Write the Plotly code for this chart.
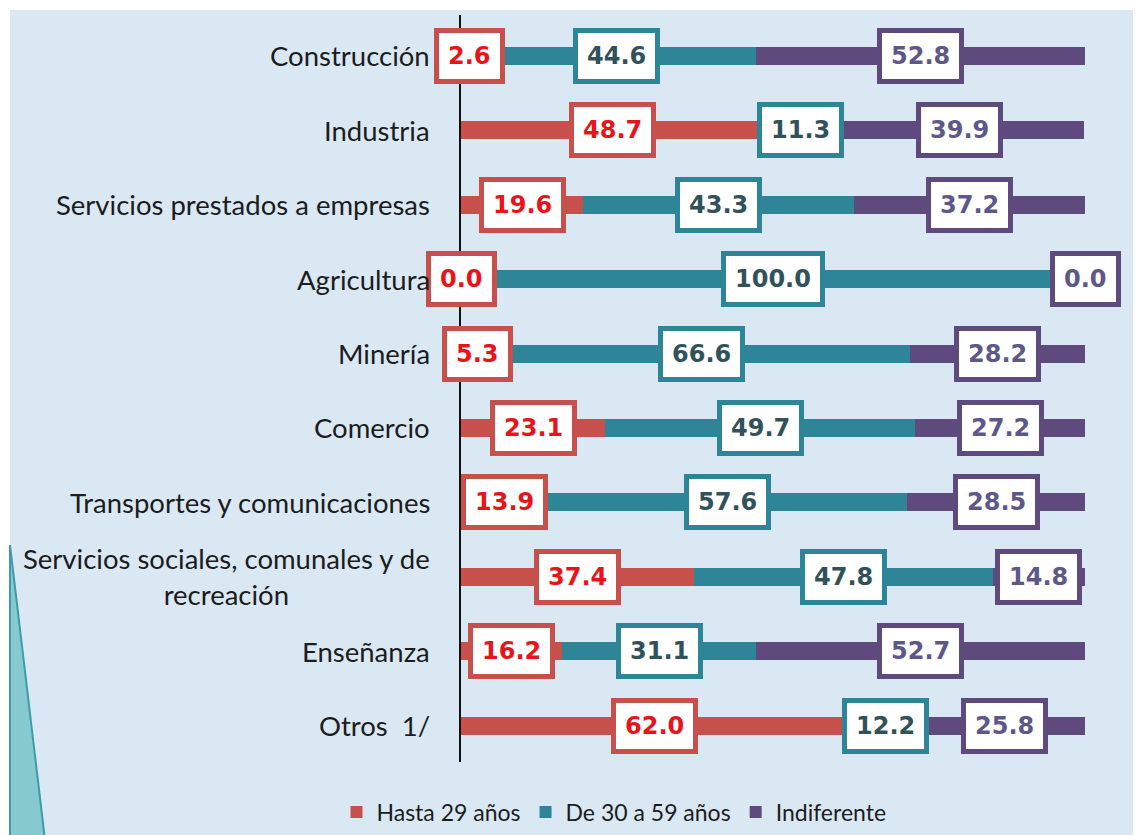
import plotly.graph_objects as go

categories = ["Construcción", "Industria", "Servicios prestados a empresas", "Agricultura",
              "Minería", "Comercio", "Transportes y comunicaciones",
              "Servicios sociales, comunales y de<br>recreación", "Enseñanza", "Otros  1/"]
series_names = ["Hasta 29 años", "De 30 a 59 años", "Indiferente"]
hasta_29 = [2.6, 48.7, 19.6, 0.0, 5.3, 23.1, 13.9, 37.4, 16.2, 62.0]
de_30_59 = [44.6, 11.3, 43.3, 100.0, 66.6, 49.7, 57.6, 47.8, 31.1, 12.2]
indiferente = [52.8, 39.9, 37.2, 0.0, 28.2, 27.2, 28.5, 14.8, 52.7, 25.8]

bar_colors = ["#c8504c", "#2e8597", "#5e4a7c"]
text_colors = ["#e8141a", "#31515b", "#5d5888"]

fig = go.Figure()
series = [hasta_29, de_30_59, indiferente]
for name, vals, col in zip(series_names, series, bar_colors):
    fig.add_trace(go.Bar(y=categories, x=vals, name=name, orientation="h",
                         width=0.242, marker=dict(color=col, line=dict(width=0)),
                         hoverinfo="skip"))

# value labels centered on each segment
annotations = []
for i, cat in enumerate(categories):
    start = 0.0
    for vals, bcol, tcol in zip(series, bar_colors, text_colors):
        v = vals[i]
        annotations.append(dict(
            x=start + v / 2, y=cat, xref="x", yref="y", text=f"<b>{v:.1f}</b>",
            showarrow=False, font=dict(family="DejaVu Sans", size=24, color=tcol),
            bgcolor="white", bordercolor=bcol, borderwidth=5, borderpad=9,
            xanchor="center", yanchor="middle"))
        start += v
    annotations.append(dict(
        x=-0.046, y=cat, xref="paper", yref="y", text=cat, showarrow=False,
        xanchor="right", yanchor="middle", align="center",
        font=dict(family="Lato", size=27.5, color="#1c1c1c")))

# page pixel -> paper coordinates (plot area spans x 461..1085, y 15..762 on the page)
def px(xp):
    return (xp - 461) / 624

def py(yp):
    return (762 - yp) / 747

shapes = [
    dict(type="rect", xref="paper", yref="paper", x0=px(10), x1=px(1145), y0=py(840), y1=py(10),
         fillcolor="#dae8f4", line=dict(width=0), layer="below"),
    dict(type="path", xref="paper", yref="paper",
         path=f"M {px(10)},{py(545)} L {px(45)},{py(840)} L {px(10)},{py(840)} Z",
         fillcolor="#86c9cf", line=dict(color="#3f9aab", width=2), layer="below"),
]

# figure is placed at (8, 8) by the page body margin
fig.update_layout(
    barmode="stack",
    width=1133, height=827,
    margin=dict(l=453, r=56, t=7, b=73, autoexpand=False),
    paper_bgcolor="white", plot_bgcolor="rgba(0,0,0,0)",
    showlegend=True,
    legend=dict(orientation="h", x=px(614), xanchor="center", y=py(812), yanchor="middle",
                font=dict(family="Lato", size=23, color="#1c1c1c"),
                bgcolor="rgba(0,0,0,0)", traceorder="normal"),
    annotations=annotations,
    shapes=shapes,
    bargap=0,
)
fig.update_xaxes(range=[0, 100], visible=False, showgrid=False, zeroline=False)
fig.update_yaxes(categoryorder="array", categoryarray=categories, range=[9.49, -0.55],
                 showticklabels=False, ticks="", showgrid=False, zeroline=False,
                 showline=True, linecolor="#111111", linewidth=2)

fig.write_html("out.html")
